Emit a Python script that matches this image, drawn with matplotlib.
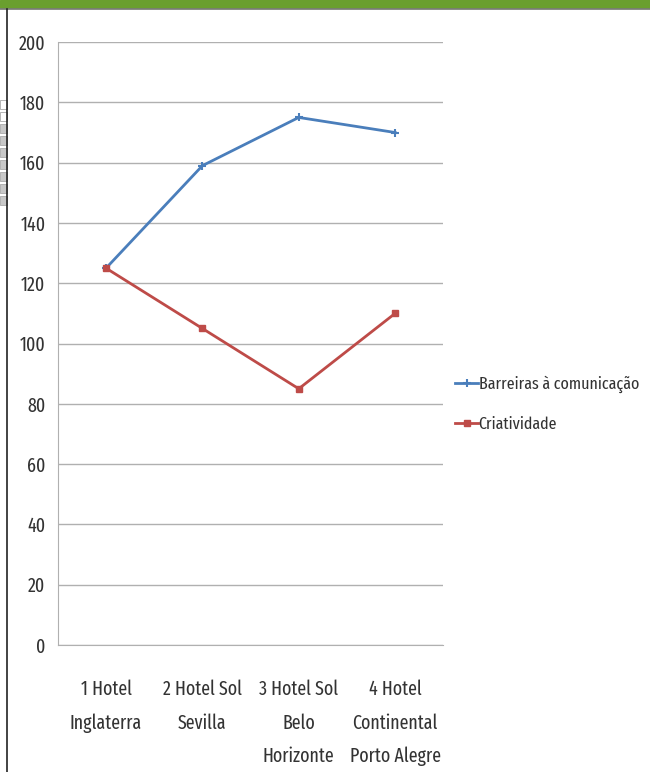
import matplotlib
matplotlib.use("Agg")
import matplotlib.pyplot as plt
from matplotlib.patches import Rectangle
from matplotlib.lines import Line2D

hotels = ["1 Hotel\nInglaterra", "2 Hotel Sol\nSevilla", "3 Hotel Sol\nBelo\nHorizonte",
          "4 Hotel\nContinental\nPorto Alegre"]
barreiras = [125, 159, 175, 170]
criatividade = [125, 105, 85, 110]
yticks = [0, 20, 40, 60, 80, 100, 120, 140, 160, 180, 200]

plt.rcParams['font.family'] = ['Fira Sans Extra Condensed', 'DejaVu Sans']

fig = plt.figure(figsize=(6.5, 7.72), dpi=100)

# green header band and frame lines
fig.patches.append(Rectangle((0, 1 - 8 / 772), 1, 8 / 772, transform=fig.transFigure,
                             color="#6a9f2f", zorder=0))
fig.lines.append(Line2D([0, 1], [1 - 9 / 772, 1 - 9 / 772], transform=fig.transFigure,
                        color="#7a7a7a", lw=1.2))
fig.lines.append(Line2D([7 / 650, 7 / 650], [0, 1 - 9 / 772], transform=fig.transFigure,
                        color="#222222", lw=1.2))
for i in range(9):
    y = 1 - (100 + i * 12) / 772
    fig.patches.append(Rectangle((0, y - 9 / 772), 7 / 650, 9 / 772, transform=fig.transFigure,
                                 facecolor="#c8c8c8" if i > 1 else "white",
                                 edgecolor="#aaaaaa", lw=0.6))

ax = fig.add_axes([0.089, 0.1645, 0.593, 0.781])
x = range(len(hotels))
ax.plot(x, barreiras, color="#4a7ebb", lw=2, marker="+", ms=6, mew=1.5,
        label="Barreiras à comunicação")
ax.plot(x, criatividade, color="#be4b48", lw=2, marker="s", ms=5,
        label="Criatividade")

ax.set_xlim(-0.5, len(hotels) - 0.5)
ax.set_ylim(0, 200)
ax.set_yticks(yticks)
ax.set_yticklabels([str(v) for v in yticks], fontsize=14, color="#333333")
ax.set_xticks(list(x))
ax.set_xticklabels(hotels, fontsize=14, color="#333333", linespacing=1.9, va="top")
ax.tick_params(axis="y", length=0, pad=9)
ax.tick_params(axis="x", length=0, pad=25)
ax.grid(axis="y", color="#b0b0b0", lw=1)
ax.set_axisbelow(True)
for s in ["top", "right"]:
    ax.spines[s].set_visible(False)
ax.spines["left"].set_color("#b0b0b0")
ax.spines["bottom"].set_color("#b0b0b0")

ax.legend(loc="center left", bbox_to_anchor=(1.031, 0.40), frameon=False, fontsize=12.5,
          borderaxespad=0, borderpad=0, handlelength=1.3, handletextpad=0.05,
          labelspacing=1.35, labelcolor="#333333")

fig.savefig("out.png", dpi=100, facecolor="white")
